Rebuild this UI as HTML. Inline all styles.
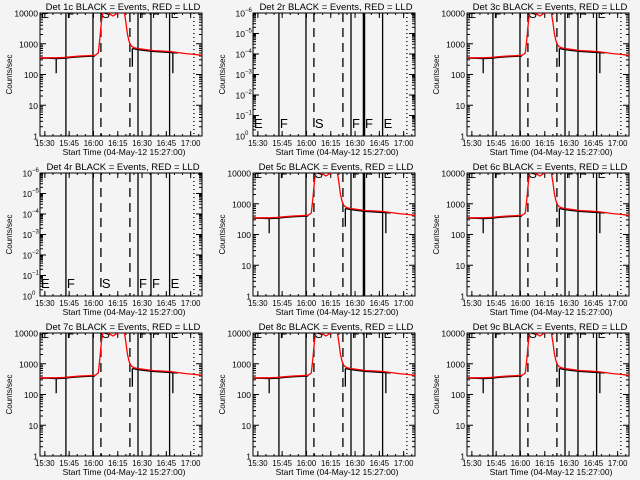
<!DOCTYPE html>
<html><head><meta charset="utf-8"><style>
html,body{margin:0;padding:0;background:#f4f4f4;}
svg{display:block;font-family:"Liberation Sans","DejaVu Sans",sans-serif;}
</style></head><body>
<svg id="chart" width="640" height="480" viewBox="0 0 640 480"></svg>
<script>
// data (minutes after 15:27:00)
const detectors = ["1c","2r","3c","4r","5c","6c","7c","8c","9c"];
const emptyPanels = ["2r","4r"];
const times = [0,5,10,15,20,25,30,34,36,37,38,39,40,42,45,48,50,52,53,54,55,56,57,58,60,65,70,75,80,85,90,95,100];
const redVals = [350,350,350,360,380,400,410,420,500,1500,6000,11000,11500,10000,8000,10000,11000,11000,5000,2000,1200,900,800,750,700,650,600,580,560,520,480,450,420];
const blackVals = [340,340,330,340,360,380,390,400,null,null,null,null,null,null,null,null,null,null,null,null,null,null,700,680,650,600,560,540,520,500,null,null,null];
const spikeTimes = [10,57,82];
const spikeVals = [110,180,110];
const solidLines = [16,32.7,60.5,68.5,80];
const dashedLines = [37.6,55.5];
const dottedLines = [95];
const modeLetters = ["E","F","S","F","F","E"];
const modeTimes = [0,16,37.6,60.5,68.5,80];
const xTickLabels = ["15:30","15:45","16:00","16:15","16:30","16:45","17:00"];
const xTickMins = [3,18,33,48,63,78,93];
const yTickLabels = ["10000","1000","100","10","1"];
const yTickVals = [10000,1000,100,10,1];
const emptyExp = ["-6","-5","-4","-3","-2","-1","0"];

const NS="http://www.w3.org/2000/svg";
const svg=document.getElementById('chart');
function mk(tag,attrs,parent){const e=document.createElementNS(NS,tag);for(const k in attrs)e.setAttribute(k,attrs[k]);(parent||svg).appendChild(e);return e;}

detectors.forEach((det,i)=>{
  const ox=[0,213,427][i%3], oy=Math.floor(i/3)*160;
  const L=ox+40,R=ox+202,T=oy+13,B=oy+136;
  const xs=m=>L+(R-L)*m/100;
  const ys=v=>B-(B-T)*Math.log10(v)/4;
  const g=mk('g',{});
  
  
  const empty=emptyPanels.includes(det);
  const clipId='clip'+i;
  const cp=mk('clipPath',{id:clipId},g);mk('rect',{x:L,y:T,width:R-L,height:B-T},cp);
  const t=mk('text',{x:(L+R)/2+2,y:oy+10,'text-anchor':'middle','font-size':9.5,fill:'#000'},g);
  t.textContent='Det '+det+' BLACK = Events, RED = LLD';
  
  
  const fr=mk('rect',{x:L,y:T,width:R-L,height:B-T,fill:'none',stroke:'#000','stroke-width':1},g);
  
  
  xTickMins.forEach((m,k)=>{
    const x=xs(m);
    mk('line',{x1:x,x2:x,y1:B,y2:B-5,stroke:'#000'},g);mk('line',{x1:x,x2:x,y1:T,y2:T+5,stroke:'#000'},g);
    const tl=mk('text',{x:x,y:B+10,'text-anchor':'middle','font-size':7.8},g);tl.textContent=xTickLabels[k];
    
    
  });
  for(let m=3;m<100;m+=5){const x=xs(m);mk('line',{x1:x,x2:x,y1:B,y2:B-2,stroke:'#000'},g);mk('line',{x1:x,x2:x,y1:T,y2:T+2,stroke:'#000'},g);}
  const xt=mk('text',{x:(L+R)/2+3,y:B+19,'text-anchor':'middle','font-size':8.5},g);
  xt.textContent='Start Time (04-May-12 15:27:00)';
  
  
  const yt=mk('text',{x:0,y:0,'text-anchor':'middle','font-size':8,transform:`translate(${ox+12},${(T+B)/2}) rotate(-90)`},g);
  yt.textContent='Counts/sec';
  
  
  if(!empty){
    yTickVals.forEach((v,k)=>{
      const y=ys(v);
      mk('line',{x1:L,x2:L+6,y1:y,y2:y,stroke:'#000'},g);mk('line',{x1:R,x2:R-6,y1:y,y2:y,stroke:'#000'},g);
      const tl=mk('text',{x:L-2,y:y+3.5,'text-anchor':'end','font-size':8.5},g);tl.textContent=yTickLabels[k];
      
      
      if(v<10000)for(let j=2;j<10;j++){const yy=ys(v*j);mk('line',{x1:L,x2:L+3,y1:yy,y2:yy,stroke:'#000'},g);mk('line',{x1:R,x2:R-3,y1:yy,y2:yy,stroke:'#000'},g);}
    });
  } else {
    emptyExp.forEach((e,k)=>{
      const y=T+(B-T)*k/6;
      mk('line',{x1:L,x2:L+6,y1:y,y2:y,stroke:'#000'},g);mk('line',{x1:R,x2:R-6,y1:y,y2:y,stroke:'#000'},g);
      if(k<6)for(let j=2;j<10;j++){const yy=y+(B-T)/6*(1-Math.log10(j));mk('line',{x1:L,x2:L+3,y1:yy,y2:yy,stroke:'#000'},g);mk('line',{x1:R,x2:R-3,y1:yy,y2:yy,stroke:'#000'},g);}
      const tl=mk('text',{x:L-8,y:y+3.5,'text-anchor':'end','font-size':8.5},g);tl.textContent='10';
      
      
      const sp=mk('text',{x:L-8,y:y-1,'text-anchor':'start','font-size':6},g);sp.textContent=e==='0'?'0':e.replace('-','−');
    });
  }
  const cg=mk('g',{'clip-path':`url(#${clipId})`},g);
  solidLines.forEach((m,k)=>{const x=xs(m);const l=mk('line',{x1:x,x2:x,y1:T,y2:B,stroke:'#000','stroke-width':(k===3&&(i===1||i===4))?2.5:1.3},cg);});
  dashedLines.forEach(m=>{const x=xs(m);const l=mk('line',{x1:x,x2:x,y1:T,y2:B,stroke:'#000','stroke-width':1.3,'stroke-dasharray':'9,6'},cg);});
  dottedLines.forEach(m=>{const x=xs(m);const l=mk('line',{x1:x,x2:x,y1:T,y2:B,stroke:'#000','stroke-width':1.3,'stroke-dasharray':'1,3'},cg);});
  modeLetters.forEach((s,k)=>{
    const x=xs(modeTimes[k])+1;
    const tl=mk('text',{x:x,y:empty?B-8:T+5,'font-size':empty?13:12,fill:'#000','font-weight':'normal'},cg);tl.textContent=s;
    
    
  });
  if(!empty){
    let d='',pen=false;
    times.forEach((m,k)=>{const v=blackVals[k];if(v==null){pen=false;return;}d+=(pen?'L':'M')+xs(m).toFixed(1)+','+ys(v).toFixed(1);pen=true;});
    const bp=mk('path',{d:d,fill:'none',stroke:'#000','stroke-width':1.3},cg);
    
    
    spikeTimes.forEach((m,k)=>{
      let j=0;while(j<times.length-1&&times[j+1]<=m)j++;
      const base=blackVals[j]||400;
      const sl=mk('line',{x1:xs(m),x2:xs(m),y1:ys(base),y2:ys(spikeVals[k]),stroke:'#000','stroke-width':1.3},cg);
      
      
    });
    const rp=mk('path',{d:times.map((m,k)=>(k?'L':'M')+xs(m).toFixed(1)+','+ys(redVals[k]).toFixed(1)).join(''),fill:'none',stroke:'#ff0000','stroke-width':1.3},cg);
    
    
  }
});
</script>
</body></html>
